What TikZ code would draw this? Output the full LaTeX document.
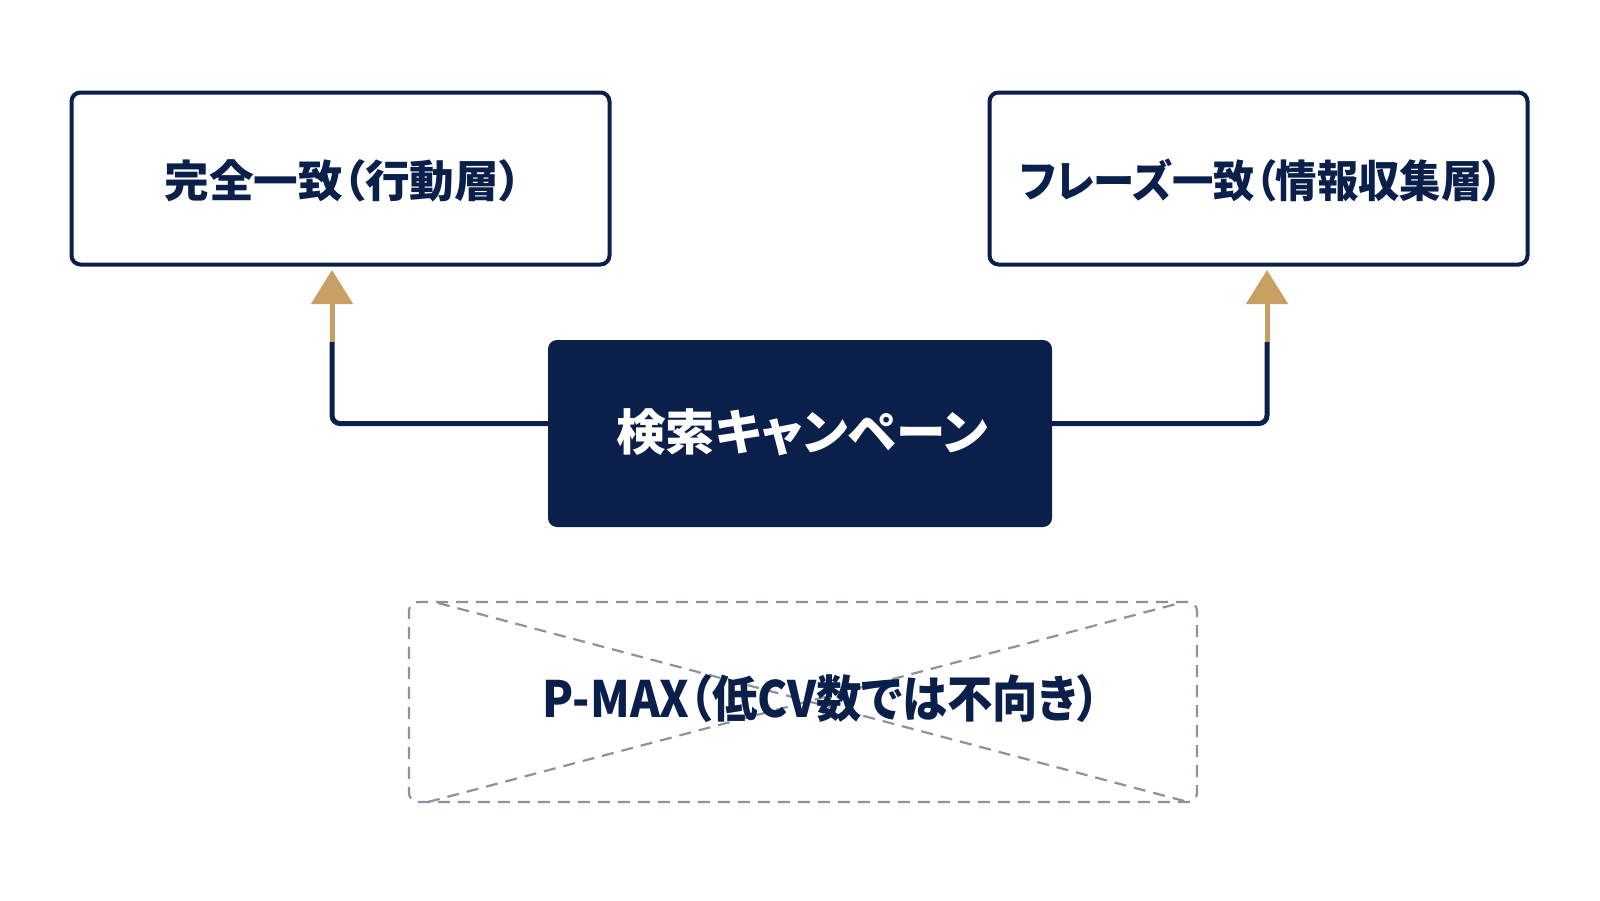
\documentclass[tikz,border=0pt]{standalone}
\usepackage{graphicx}
\usepackage{fontspec}
\setmainfont{Noto Sans CJK JP}[RawFeature=+palt]
\usetikzlibrary{arrows.meta}
\definecolor{navy}{HTML}{0B1F4B}
\definecolor{gold}{HTML}{C9A063}
\definecolor{dgray}{HTML}{8E9299}
\tikzset{
  lbox/.style={draw=navy, line width=4pt, rounded corners=9pt, fill=white, minimum width=538pt, minimum height=172pt},
  ltext/.style={text=navy, font=\fontsize{44pt}{52pt}\selectfont\bfseries},
  cbox/.style={fill=navy, rounded corners=9pt, minimum width=504pt, minimum height=187pt},
  ctext/.style={text=white, font=\fontsize{49pt}{57pt}\selectfont\bfseries},
  conn/.style={draw=navy, line width=5pt, rounded corners=8pt},
  goldarr/.style={draw=gold, line width=5pt, -{Triangle[width=41pt,length=34pt]}},
  dbox/.style={draw=dgray, line width=2.2pt, dash pattern=on 12pt off 8pt, rounded corners=9pt, minimum width=788pt, minimum height=200pt},
  dline/.style={draw=dgray, line width=2.2pt, dash pattern=on 12pt off 8pt},
  ptext/.style={text=navy, font=\fontsize{50pt}{58pt}\selectfont\bfseries}
}
\begin{document}
\begin{tikzpicture}[x=1pt,y=-1pt]
\useasboundingbox (0,0) rectangle (1600,900);
\fill[white] (0,0) rectangle (1600,900);
\node[lbox] (L) at (340.5,178.5) {};
\node[lbox] (R) at (1258.5,178.5) {};
\node[ltext] (LT) at (343,180.5) {\scalebox{1.015}[1]{完全一致（行動層）}};
\node[ltext] (RT) at (1261.5,180.5) {\scalebox{0.94}[1]{フレーズ一致（情報収集層）}};
\node[cbox] (C) at (800,433.5) {};
\node[ctext] (CT) at (802,432) {\scalebox{1.01}[1]{検索キャンペーン}};
\coordinate (la) at (332,342);
\coordinate (ra) at (1267,342);
\coordinate (lt) at (332,270);
\coordinate (rt) at (1267,270);
\draw[conn] (C.west |- 0,423.5) -| (la);
\draw[conn] (C.east |- 0,423.5) -| (ra);
\draw[goldarr] (la) -- (lt);
\draw[goldarr] (ra) -- (rt);
\node[dbox] (P) at (803,702) {};
\coordinate (d1) at (438,603);
\coordinate (d2) at (1188,802);
\coordinate (d3) at (428,802);
\coordinate (d4) at (1180,603);
\draw[dline] (d1) -- (d2);
\draw[dline] (d3) -- (d4);
\node[ptext] (PT) at (821.5,698) {\scalebox{0.907}[1]{P-MAX（低CV数では不向き）}};
\end{tikzpicture}
\end{document}
